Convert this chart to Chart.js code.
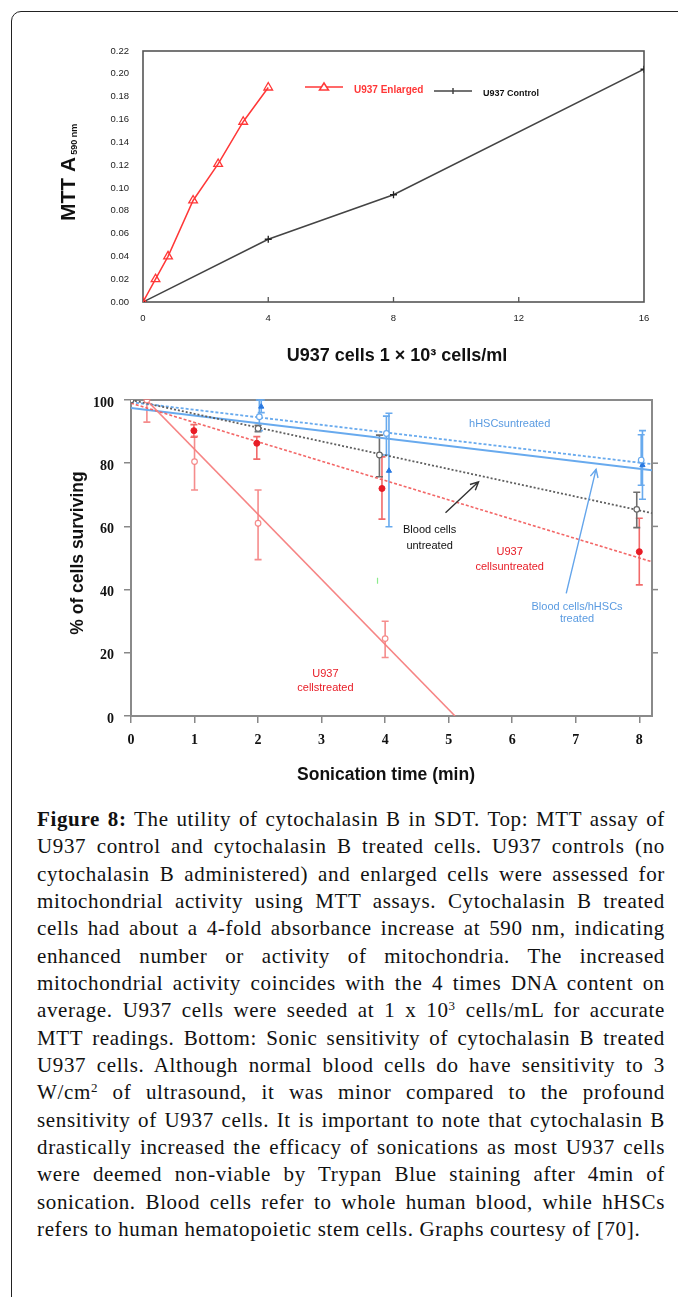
<!DOCTYPE html>
<html><head><meta charset="utf-8">
<script src="https://cdn.jsdelivr.net/npm/chart.js@4.4.1/dist/chart.umd.min.js"></script>
<style>
html,body{margin:0;padding:0;background:#fff;width:678px;height:1297px;overflow:hidden;position:relative}
#box{position:absolute;left:11px;top:11px;width:740px;height:1360px;border:1.6px solid #222;border-radius:10px;box-sizing:border-box}
#c1{position:absolute;left:0;top:0}
#c2{position:absolute;left:0;top:380px}
#cap{position:absolute;left:37px;top:806px;width:628px;font-family:"Liberation Serif","Times New Roman",serif;font-size:21px;letter-spacing:0.65px;line-height:27.33px;color:#111}
#cap .l{text-align:justify;text-align-last:justify;height:27.33px;white-space:normal}
#cap .last{text-align:left;text-align-last:left}
sup{font-size:0.62em;line-height:0;vertical-align:0.55em}
</style></head>
<body>
<div id="box"></div>
<canvas id="c1" width="678" height="380"></canvas>
<canvas id="c2" width="678" height="420"></canvas>
<div id="cap">
<div class="l"><b>Figure 8:</b> The utility of cytochalasin B in SDT. Top: MTT assay of</div>
<div class="l">U937 control and cytochalasin B treated cells. U937 controls (no</div>
<div class="l">cytochalasin B administered) and enlarged cells were assessed for</div>
<div class="l">mitochondrial activity using MTT assays. Cytochalasin B treated</div>
<div class="l">cells had about a 4-fold absorbance increase at 590 nm, indicating</div>
<div class="l">enhanced number or activity of mitochondria. The increased</div>
<div class="l">mitochondrial activity coincides with the 4 times DNA content on</div>
<div class="l">average. U937 cells were seeded at 1 x 10<sup>3</sup> cells/mL for accurate</div>
<div class="l">MTT readings. Bottom: Sonic sensitivity of cytochalasin B treated</div>
<div class="l">U937 cells. Although normal blood cells do have sensitivity to 3</div>
<div class="l">W/cm<sup>2</sup> of ultrasound, it was minor compared to the profound</div>
<div class="l">sensitivity of U937 cells. It is important to note that cytochalasin B</div>
<div class="l">drastically increased the efficacy of sonications as most U937 cells</div>
<div class="l">were deemed non-viable by Trypan Blue staining after 4min of</div>
<div class="l">sonication. Blood cells refer to whole human blood, while hHSCs</div>
<div class="l last">refers to human hematopoietic stem cells. Graphs courtesy of [70].</div>
</div>
<script>
// fit each caption line into the column without re-wrapping
document.querySelectorAll('#cap .l').forEach(el => {
  const span = document.createElement('span');
  span.style.whiteSpace = 'nowrap';
  while (el.firstChild) span.appendChild(el.firstChild);
  el.appendChild(span);
  el.style.textAlign = 'left'; el.style.textAlignLast = 'left';
  const w = span.getBoundingClientRect().width;
  if (w > 626) {
    const n = span.textContent.length;
    el.style.letterSpacing = (0.65 - (w - 626) / n) + 'px';
  }
  el.style.textAlign = ''; el.style.textAlignLast = '';
  while (span.firstChild) el.insertBefore(span.firstChild, span);
  span.remove();
});

// ---------- TOP CHART DATA ----------
const enlargedX = [0, 0.4, 0.8, 1.6, 2.4, 3.2, 4];
const enlargedY = [0, 0.02, 0.04, 0.089, 0.121, 0.158, 0.188];
const controlX  = [0, 4, 8, 16];
const controlY  = [0, 0.055, 0.094, 0.204];
const topXTicks = [0, 4, 8, 12, 16];
const topYTicks = [0, 0.02, 0.04, 0.06, 0.08, 0.10, 0.12, 0.14, 0.16, 0.18, 0.20, 0.22];

// ---------- BOTTOM CHART DATA ----------
const u937TreatedX  = [0.25, 1, 2, 4];
const u937TreatedY  = [100, 80.5, 61, 24.5];
const u937TreatedLo = [93, 71.5, 49.5, 18.5];
const u937TreatedHi = [100, 88.5, 71.5, 30];

const u937UntreatedX  = [0.99, 1.98, 3.95, 8];
const u937UntreatedY  = [90.3, 86.3, 72, 52];
const u937UntreatedLo = [88.2, 81.3, 62.3, 41.5];
const u937UntreatedHi = [92.2, 88.4, 82, 62.6];

const bloodUntreatedX  = [0, 2, 3.91, 7.96];
const bloodUntreatedY  = [100, 91, 82.6, 65.4];
const bloodUntreatedLo = [100, 90, 75.7, 59.6];
const bloodUntreatedHi = [100, 92, 88.9, 70.8];

const hscUntreatedX  = [2.02, 4.02, 8.03];
const hscUntreatedY  = [94.7, 89.4, 81];
const hscUntreatedLo = [90.3, 82.6, 73];
const hscUntreatedHi = [100, 94.9, 89];

const treatedX  = [2.05, 4.06, 8.05];
const treatedY  = [97.9, 77.6, 79.4];
const treatedLo = [96, 59.9, 68.6];
const treatedHi = [100, 95.8, 90.3];

const strayX = [3.88];
const strayY = [42.8];

// trend lines (end points)
const fitU937TreatedX = [0, 5.1],   fitU937TreatedY = [105, 0];
const fitU937UntreatedX = [0, 8.2], fitU937UntreatedY = [99, 48.8];
const fitBloodX = [0, 8.2],         fitBloodY = [100, 64.2];
const fitHscX = [0, 8.2],           fitHscY = [99.3, 79.7];
const fitTreatedX = [0, 8.2],       fitTreatedY = [97.5, 77.8];

const botXTicks = [0, 1, 2, 3, 4, 5, 6, 7, 8];
const botYTicks = [0, 20, 40, 60, 80, 100];

// ---------- helpers ----------
const pts = (xs, ys) => xs.map((x, i) => ({x, y: ys[i]}));
const SANS = '"Liberation Sans", Arial, sans-serif';
const SERIF = '"Liberation Serif", "Times New Roman", serif';
const RED = 'rgb(255,55,55)';
const LRED = 'rgba(243,120,120,0.85)';
const DRED = 'rgb(232,28,38)';
const BLUE = 'rgb(104,170,238)';
const DBLUE = 'rgb(40,120,225)';
const GREY = 'rgb(100,100,100)';

function frame(color, width) {
  return {id: 'frame', beforeDatasetsDraw(chart) {
    const a = chart.chartArea, c = chart.ctx;
    c.save(); c.strokeStyle = color; c.lineWidth = width;
    c.strokeRect(a.left, a.top, a.right - a.left, a.bottom - a.top);
    c.restore();
  }};
}

const errorBars = {id: 'errorBars', beforeDatasetsDraw(chart) {
  const c = chart.ctx, xs = chart.scales.x, ys = chart.scales.y;
  chart.data.datasets.forEach(ds => {
    if (!ds.err) return;
    c.save(); c.strokeStyle = ds.err.color; c.lineWidth = 1.6;
    ds.data.forEach((p, i) => {
      const px = xs.getPixelForValue(p.x);
      const yl = ys.getPixelForValue(ds.err.lo[i]);
      const yh = ys.getPixelForValue(ds.err.hi[i]);
      if (Math.abs(yl - yh) < 1) return;
      c.beginPath();
      c.moveTo(px, yl); c.lineTo(px, yh);
      c.moveTo(px - 3.5, yl); c.lineTo(px + 3.5, yl);
      c.moveTo(px - 3.5, yh); c.lineTo(px + 3.5, yh);
      c.stroke();
    });
    c.restore();
  });
}};

function text(c, s, x, y, font, color, align) {
  c.save(); c.font = font; c.fillStyle = color; c.textAlign = align || 'left'; c.textBaseline = 'alphabetic';
  c.fillText(s, x, y); c.restore();
}

// ---------- TOP CHART ----------
const topDecor = {id: 'topDecor', afterDraw(chart) {
  const c = chart.ctx, xs = chart.scales.x, a = chart.chartArea;
  c.save(); c.strokeStyle = '#555'; c.lineWidth = 1.3;
  topXTicks.forEach(v => {
    if (v === topXTicks[0] || v === topXTicks[topXTicks.length - 1]) return;
    const px = xs.getPixelForValue(v);
    c.beginPath(); c.moveTo(px, a.bottom); c.lineTo(px, a.bottom - 5); c.stroke();
  });
  c.restore();
  const ds = chart.data.datasets;
  c.save();
  c.strokeStyle = ds[0].borderColor; c.lineWidth = 1.5;
  c.beginPath(); c.moveTo(305, 87); c.lineTo(343, 87); c.stroke();
  c.beginPath(); c.moveTo(324, 83); c.lineTo(328.5, 90); c.lineTo(319.5, 90); c.closePath();
  c.fillStyle = '#fff'; c.fill(); c.stroke();
  c.strokeStyle = ds[1].borderColor;
  c.beginPath(); c.moveTo(434, 91); c.lineTo(472, 91); c.stroke();
  c.beginPath(); c.moveTo(453, 88); c.lineTo(453, 94); c.stroke();
  c.restore();
  text(c, ds[0].label, 354, 92.5, 'bold 10px ' + SANS, ds[0].borderColor);
  text(c, ds[1].label, 483, 95.5, 'bold 9px ' + SANS, '#111');
  text(c, 'U937 cells 1 \u00d7 10\u00b3 cells/ml', 397, 361, 'bold 18px ' + SANS, '#111', 'center');
  c.save(); c.translate(75, 221); c.rotate(-Math.PI / 2);
  c.font = 'bold 21px ' + SANS; c.fillStyle = '#111';
  c.fillText('MTT A', 0, 0);
  const w = c.measureText('MTT A').width;
  c.font = 'bold 9px ' + SANS;
  c.fillText('590 nm', w + 2, 1.5);
  c.restore();
}};

new Chart(document.getElementById('c1'), {
  type: 'scatter',
  data: {datasets: [
    {label: 'U937 Enlarged', data: pts(enlargedX, enlargedY), showLine: true,
     borderColor: RED, borderWidth: 1.5, pointStyle: 'triangle', pointRadius: 5,
     pointBorderColor: RED, pointBackgroundColor: 'rgba(255,255,255,0)', pointBorderWidth: 1.3},
    {label: 'U937 Control', data: pts(controlX, controlY), showLine: true,
     borderColor: '#444', borderWidth: 1.5, pointStyle: 'cross', pointRadius: 3.5,
     pointBorderColor: '#222', pointBorderWidth: 1.3}
  ]},
  options: {
    responsive: false, animation: false, devicePixelRatio: 1,
    layout: {padding: {left: 83, right: 34, top: 51, bottom: 48}},
    plugins: {legend: {display: false}, tooltip: {enabled: false}},
    scales: {
      x: {type: 'linear', min: 0, max: 16,
          afterBuildTicks: s => { s.ticks = topXTicks.map(v => ({value: v})); },
          afterFit: s => { s.height = 30; },
          grid: {display: false, drawTicks: false}, border: {display: false},
          ticks: {padding: 11, color: '#222', font: {family: SANS, size: 9.5}, maxRotation: 0}},
      y: {type: 'linear', min: 0, max: 0.22,
          afterBuildTicks: s => { s.ticks = topYTicks.map(v => ({value: v})); },
          afterFit: s => { s.width = 60; },
          grid: {display: false, drawTicks: false}, border: {display: false},
          ticks: {padding: 14, color: '#222', font: {family: SANS, size: 9.5}, callback: v => Number(v).toFixed(2)}}
    }
  },
  plugins: [frame('#555', 1.6), topDecor]
});

// ---------- BOTTOM CHART ----------
const notes = [
  {t: 'hHSCsuntreated', x: 5.96, y: 91.6, color: 'rgb(90,155,225)'},
  {t: 'Blood cells', x: 4.70, y: 57.8, color: '#111'},
  {t: 'untreated', x: 4.70, y: 52.9, color: '#111'},
  {t: 'U937', x: 5.96, y: 50.9, color: DRED},
  {t: 'cellsuntreated', x: 5.96, y: 46.1, color: DRED},
  {t: 'Blood cells/hHSCs', x: 7.02, y: 33.5, color: 'rgb(90,155,225)'},
  {t: 'treated', x: 7.02, y: 29.7, color: 'rgb(90,155,225)'},
  {t: 'U937', x: 3.06, y: 12.4, color: DRED},
  {t: 'cellstreated', x: 3.06, y: 8.0, color: DRED}
];
const arrows = [
  {x1: 4.95, y1: 64.3, x2: 5.47, y2: 74.1, color: '#333'},
  {x1: 6.85, y1: 38.8, x2: 7.32, y2: 78.1, color: 'rgb(100,165,235)'}
];

const botDecor = {id: 'botDecor', afterDraw(chart) {
  const c = chart.ctx, xs = chart.scales.x, ys = chart.scales.y, a = chart.chartArea;
  c.save(); c.strokeStyle = '#888'; c.lineWidth = 1.5;
  [20, 40, 60, 80].forEach(v => {
    const py = ys.getPixelForValue(v);
    c.beginPath(); c.moveTo(a.right, py); c.lineTo(a.right + 6, py); c.stroke();
  });
  c.restore();
  notes.forEach(n => text(c, n.t, xs.getPixelForValue(n.x), ys.getPixelForValue(n.y), '11px ' + SANS, n.color, 'center'));
  arrows.forEach(ar => {
    const x1 = xs.getPixelForValue(ar.x1), y1 = ys.getPixelForValue(ar.y1);
    const x2 = xs.getPixelForValue(ar.x2), y2 = ys.getPixelForValue(ar.y2);
    const ang = Math.atan2(y2 - y1, x2 - x1), L = 9, sp = 0.45;
    c.save(); c.strokeStyle = ar.color; c.lineWidth = 1.4;
    c.beginPath(); c.moveTo(x1, y1); c.lineTo(x2, y2);
    c.moveTo(x2 - L * Math.cos(ang - sp), y2 - L * Math.sin(ang - sp)); c.lineTo(x2, y2);
    c.lineTo(x2 - L * Math.cos(ang + sp), y2 - L * Math.sin(ang + sp));
    c.stroke(); c.restore();
  });
  text(c, 'Sonication time (min)', 386, 400, 'bold 17.5px ' + SANS, '#111', 'center');
  c.save(); c.translate(83, 173); c.rotate(-Math.PI / 2);
  c.font = 'bold 17.5px ' + SANS; c.fillStyle = '#111'; c.textAlign = 'center';
  c.fillText('% of cells surviving', 0, 0); c.restore();
}};

const fit = (xs, ys, color, dash, w) => ({data: pts(xs, ys), showLine: true, borderColor: color,
  borderWidth: w || 1.8, borderDash: dash, pointRadius: 0, order: 5});

new Chart(document.getElementById('c2'), {
  type: 'scatter',
  data: {datasets: [
    fit(fitU937TreatedX, fitU937TreatedY, 'rgba(245,125,125,0.95)', [], 1.6),
    fit(fitU937UntreatedX, fitU937UntreatedY, 'rgba(242,95,95,0.95)', [3, 2], 1.6),
    fit(fitBloodX, fitBloodY, 'rgb(95,95,95)', [2, 2], 1.8),
    fit(fitHscX, fitHscY, BLUE, [3, 2], 1.8),
    fit(fitTreatedX, fitTreatedY, BLUE, [], 2),
    {label: 'U937 cells treated', data: pts(u937TreatedX, u937TreatedY), pointStyle: 'circle', pointRadius: 2.8,
     pointBorderColor: LRED, pointBackgroundColor: '#fff', pointBorderWidth: 1.2,
     err: {lo: u937TreatedLo, hi: u937TreatedHi, color: LRED}},
    {label: 'U937 cells untreated', data: pts(u937UntreatedX, u937UntreatedY), pointStyle: 'circle', pointRadius: 3,
     pointBorderColor: DRED, pointBackgroundColor: DRED, pointBorderWidth: 1,
     err: {lo: u937UntreatedLo, hi: u937UntreatedHi, color: 'rgba(240,90,90,0.9)'}},
    {label: 'Blood cells untreated', data: pts(bloodUntreatedX, bloodUntreatedY), pointStyle: 'circle', pointRadius: 2.8,
     pointBorderColor: GREY, pointBackgroundColor: '#fff', pointBorderWidth: 1.2,
     err: {lo: bloodUntreatedLo, hi: bloodUntreatedHi, color: 'rgb(110,110,110)'}},
    {label: 'hHSCs untreated', data: pts(hscUntreatedX, hscUntreatedY), pointStyle: 'circle', pointRadius: 2.8,
     pointBorderColor: BLUE, pointBackgroundColor: '#fff', pointBorderWidth: 1.2,
     err: {lo: hscUntreatedLo, hi: hscUntreatedHi, color: BLUE}},
    {label: 'Blood cells/hHSCs treated', data: pts(treatedX, treatedY), pointStyle: 'triangle', pointRadius: 3,
     pointBorderColor: DBLUE, pointBackgroundColor: DBLUE, pointBorderWidth: 1,
     err: {lo: treatedLo, hi: treatedHi, color: BLUE}},
    {label: 'stray', data: pts(strayX, strayY), pointStyle: 'line', rotation: 90, pointRadius: 3,
     pointBorderColor: 'rgb(140,235,140)', pointBorderWidth: 1.2}
  ]},
  options: {
    responsive: false, animation: false, devicePixelRatio: 1,
    layout: {padding: {left: 81, right: 26, top: 20, bottom: 54}},
    plugins: {legend: {display: false}, tooltip: {enabled: false}},
    scales: {
      x: {type: 'linear', min: 0, max: 8.2,
          afterBuildTicks: s => { s.ticks = botXTicks.map(v => ({value: v})); },
          afterFit: s => { s.height = 30; },
          grid: {drawOnChartArea: false, drawTicks: true, tickLength: 7, color: '#888', lineWidth: 1.5},
          border: {display: false},
          ticks: {padding: 9, color: '#111', font: {family: SERIF, size: 14, weight: 'bold'}, maxRotation: 0}},
      y: {type: 'linear', min: 0, max: 100,
          afterBuildTicks: s => { s.ticks = botYTicks.map(v => ({value: v})); },
          afterFit: s => { s.width = 50; },
          grid: {drawOnChartArea: false, drawTicks: true, tickLength: 7, color: '#888', lineWidth: 1.5},
          border: {display: false},
          ticks: {padding: 10, labelOffset: 3, color: '#111', font: {family: SERIF, size: 14, weight: 'bold'}}}
    }
  },
  plugins: [frame('#8a8a8a', 2), errorBars, botDecor]
});
</script>
</body></html>
